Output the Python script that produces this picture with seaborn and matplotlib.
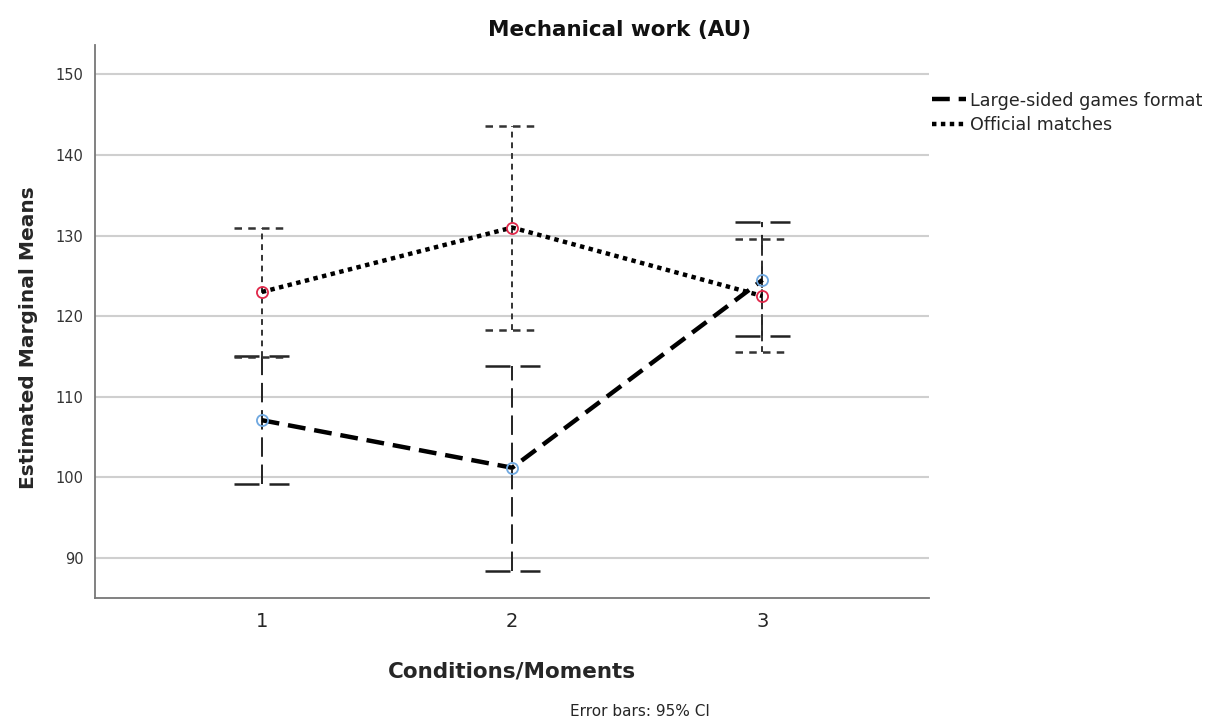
import pandas as pd
import matplotlib
matplotlib.use("Agg")
import matplotlib.pyplot as plt
from matplotlib.lines import Line2D
import seaborn as sns

conditions = [1, 2, 3]
groups = ["Large-sided games format", "Official matches"]
lsg_mean = [107.1, 101.2, 124.5]
lsg_low = [99.2, 88.4, 117.5]
lsg_high = [115.1, 113.8, 131.7]
om_mean = [123.0, 131.0, 122.5]
om_low = [115.0, 118.3, 115.5]
om_high = [130.9, 143.6, 129.6]

df = pd.DataFrame({
    "cond": conditions * 2,
    "group": [groups[0]] * 3 + [groups[1]] * 3,
    "mean": lsg_mean + om_mean,
    "low": lsg_low + om_low,
    "high": lsg_high + om_high,
})

sns.set_style("white")
plt.rcParams["font.family"] = ["DejaVu Sans"]

fig = plt.figure(figsize=(12.15, 7.2), dpi=100)
ax = fig.add_axes([0.078, 0.169, 0.687, 0.768])

# gridlines first so they sit behind
for v in range(90, 151, 10):
    ax.axhline(v, color="#cfcfcf", lw=1.5, zorder=0)

# error bars
eb_dash = {groups[0]: (0, (10, 4)), groups[1]: (0, (3, 2.5))}
eb_col = {groups[0]: "#222222", groups[1]: "#333333"}
cap_w = 0.11
for g in groups:
    d = df[df.group == g]
    ax.vlines(d["cond"], d["low"], d["high"], colors=eb_col[g], lw=1.4,
              linestyles=[eb_dash[g]], zorder=2)
    ax.hlines(d["low"], d["cond"] - cap_w, d["cond"] + cap_w, colors=eb_col[g],
              lw=1.8, linestyles=[eb_dash[g]], zorder=2)
    ax.hlines(d["high"], d["cond"] - cap_w, d["cond"] + cap_w, colors=eb_col[g],
              lw=1.8, linestyles=[eb_dash[g]], zorder=2)

sns.lineplot(data=df, x="cond", y="mean", hue="group", style="group",
             palette={groups[0]: "black", groups[1]: "black"},
             dashes={groups[0]: (4, 2), groups[1]: (1, 1)},
             lw=3.2, markers=False, ax=ax, legend=False, zorder=3)

# hollow markers
mcol = {groups[0]: "#6fa8e0", groups[1]: "#e0284a"}
for g in groups:
    d = df[df.group == g]
    ax.plot(d["cond"], d["mean"], "o", ms=8, mfc="none", mec=mcol[g], mew=1.3, zorder=4)

ax.set_xlim(0.333, 3.667)
ax.set_ylim(85, 153.6)
ax.set_xticks(conditions)
ax.set_xticklabels(["1", "2", "3"], fontsize=14)
ax.set_yticks(range(90, 151, 10))
ax.tick_params(axis="y", labelsize=10.5, length=0, pad=8, colors="#333333")
ax.tick_params(axis="x", length=0, pad=10)

for s in ["top", "right"]:
    ax.spines[s].set_visible(False)
for s in ["left", "bottom"]:
    ax.spines[s].set_color("#777777")
    ax.spines[s].set_linewidth(1.3)

fig.text(0.51, 0.958, "Mechanical work (AU)", ha="center", va="center",
         fontsize=15.5, fontweight="bold", color="#111111")
ax.set_xlabel("Conditions/Moments", fontsize=15.5, fontweight="bold", labelpad=22)
ax.set_ylabel("Estimated Marginal Means", fontsize=14.5, fontweight="bold")
ax.yaxis.set_label_coords(-0.068, 0.472)

handles = [Line2D([0], [0], color="black", lw=3.2, dashes=(4, 2)),
           Line2D([0], [0], color="black", lw=3.2, dashes=(1, 1))]
ax.legend(handles, groups, loc="upper left", bbox_to_anchor=(0.995, 0.929),
          frameon=False, fontsize=12.6, handlelength=1.9, handletextpad=0.25,
          labelspacing=0.35, borderaxespad=0)

fig.text(0.527, 0.012, "Error bars: 95% CI", ha="center", va="center", fontsize=11)

fig.savefig("out.png", dpi=100)
